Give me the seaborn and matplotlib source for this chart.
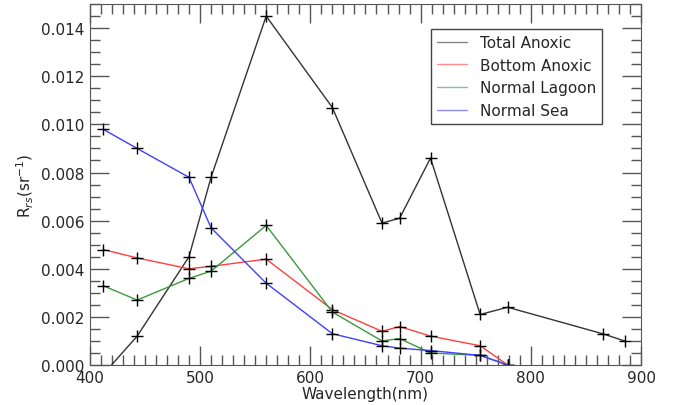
import matplotlib
matplotlib.use("Agg")
import matplotlib.pyplot as plt
from matplotlib.lines import Line2D
from matplotlib.ticker import MultipleLocator
import numpy as np
import pandas as pd
import seaborn as sns

# OLCI band centres (nm)
wavelength = [412, 443, 490, 510, 560, 620, 665, 681, 709, 754, 779, 865, 885]
wl_short = wavelength[:11]

total_anoxic = [-0.0004, 0.0012, 0.0045, 0.0078, 0.0145, 0.0107, 0.0059, 0.0061,
                0.0086, 0.0021, 0.0024, 0.0013, 0.0010]
bottom_anoxic = [0.0048, 0.00445, 0.0040, 0.0041, 0.0044, 0.0023, 0.0014, 0.0016,
                 0.0012, 0.0008, 0.0]
normal_lagoon = [0.0033, 0.0027, 0.0036, 0.0039, 0.0058, 0.0022, 0.0010, 0.0011,
                 0.0005, 0.0004, 0.0]
normal_sea = [0.0098, 0.0090, 0.0078, 0.0057, 0.0034, 0.0013, 0.0008, 0.0007,
              0.0006, 0.0004, 0.0]

names = ["Total Anoxic", "Bottom Anoxic", "Normal Lagoon", "Normal Sea"]
colors = ["#333333", "#ff4040", "#3a9a3a", "#4040ff"]

frames = []
for name, wl, vals in zip(names, [wavelength, wl_short, wl_short, wl_short],
                          [total_anoxic, bottom_anoxic, normal_lagoon, normal_sea]):
    frames.append(pd.DataFrame({"wavelength": wl, "rrs": vals, "type": name}))
df = pd.concat(frames, ignore_index=True)

sns.set_style("ticks")
plt.rcParams['font.family'] = ['DejaVu Sans']

fig = plt.figure(figsize=(6.85, 4.06), dpi=100)
ax = fig.add_axes([0.131, 0.0985, 0.805, 0.889])

sns.lineplot(data=df, x="wavelength", y="rrs", hue="type", hue_order=names,
             palette=colors, marker="+", markersize=8, mec="k", mew=1.0,
             linewidth=1.0, legend=False, ax=ax, sort=False)

ax.set_xlim(400, 900)
ax.set_ylim(0, 0.015)
ax.xaxis.set_major_locator(MultipleLocator(100))
ax.xaxis.set_minor_locator(MultipleLocator(10))
ax.yaxis.set_minor_locator(MultipleLocator(0.0005))
ax.set_yticks(np.arange(0, 0.0141, 0.002))
ax.set_yticklabels([f"{v:.3f}" for v in np.arange(0, 0.0141, 0.002)])
ax.tick_params(which="both", direction="in", top=True, right=True, color="#555555",
               labelsize=11)
ax.tick_params(which="major", length=14, width=1)
ax.tick_params(which="minor", length=7, width=1)
for s in ax.spines.values():
    s.set_color("#555555")

ax.set_xlabel("Wavelength(nm)", fontsize=11, labelpad=1)
ax.set_ylabel(r"R$_{rs}$(sr$^{-1}$)", fontsize=11)

handles = [Line2D([], [], color=c, lw=1.0, alpha=0.6) for c in colors]
leg = ax.legend(handles, names, loc="upper right", bbox_to_anchor=(0.929, 0.931),
                borderaxespad=0, fancybox=False, edgecolor="#444444", fontsize=11,
                handlelength=2.0, framealpha=1)
leg.get_frame().set_linewidth(1.0)

fig.savefig("out.png", dpi=100)
plt.close(fig)
